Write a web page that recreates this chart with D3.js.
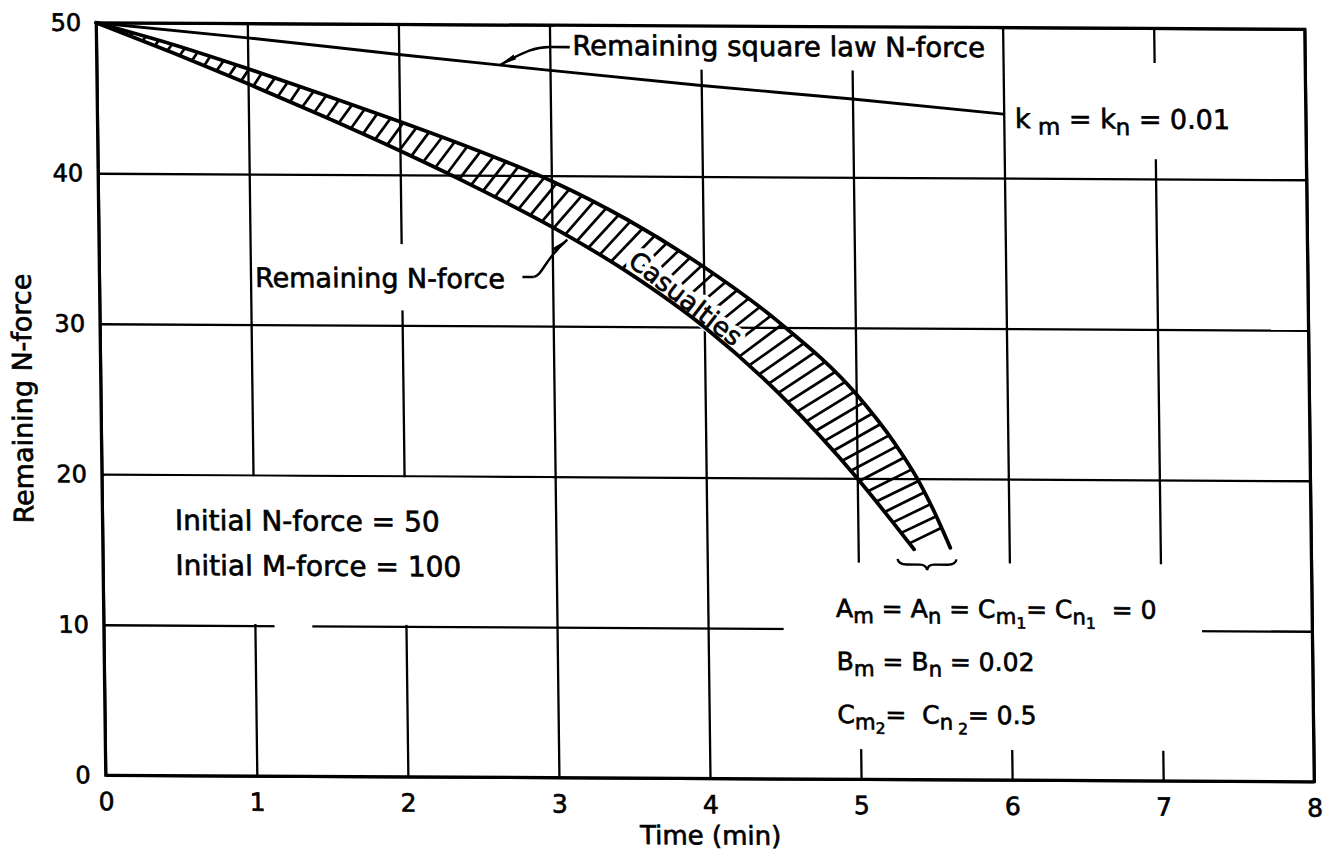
<!DOCTYPE html>
<html><head><meta charset="utf-8">
<script src="https://cdn.jsdelivr.net/npm/d3@7"></script>
<style>
html,body{margin:0;padding:0;background:#fff;}
svg{display:block;background:#fff;}
text{font-family:"DejaVu Sans",sans-serif;fill:#000;stroke:#000;stroke-width:0.65px;white-space:pre;}
</style></head><body>
<svg id="chart" width="1339" height="861"></svg>
<script>
// ---------- data ----------
const xTicks = [0,1,2,3,4,5,6,7,8];
const yTicks = [0,10,20,30,40,50];
const squareLawX = [0,1,2,3,4,5,6];
const squareLawY = [50,49.05,48.0,47.0,46.05,45.2,44.25];
const lowerX = [0,0.5,1,1.5,2,2.5,3,3.5,4,4.5,5,5.2,5.37];
const lowerY = [50,48.05,46.0,43.85,41.6,39.2,36.6,33.6,30.0,25.5,20.0,17.5,15.3];
const upperX = [0,0.5,1,1.5,2,2.5,3,3.5,4,4.5,5,5.25,5.4,5.5,5.61];
const upperY = [50,48.6,47.0,45.3,43.55,41.7,39.65,37.1,34.0,30.3,25.6,22.35,19.95,17.95,15.42];
const xTitle = "Time (min)";
const yTitle = "Remaining N-force";
// white knock-out areas where the original grid is interrupted (data units)
const gapBoxes = [
  {x0:3.03,x1:5.97,y0:47.1,y1:50},
  {x0:6.03,x1:7.6,y0:41.3,y1:47.7},
  {x0:1.03,x1:2.97,y0:31.0,y1:35.4},
  {x0:0.02,x1:2.98,y0:10.1,y1:19.9},
  {x0:1.13,x1:1.38,y0:9.6,y1:10.4},
  {x0:4.5,x1:7.27,y0:2.0,y1:14.4}
];

// ---------- setup ----------
const W = 1208.5, H = 752.5;
const svg = d3.select("#chart");
const g = svg.append("g").attr("transform","matrix(1,0.00538,0.01262,1,96.25,22.75)");
const x = d3.scaleLinear().domain([0,8]).range([0,W]);
const y = d3.scaleLinear().domain([0,50]).range([H,0]);

const defs = svg.append("defs");
defs.append("marker").attr("id","arr").attr("viewBox","0 0 18 8")
  .attr("refX",17).attr("refY",4).attr("markerWidth",18).attr("markerHeight",8)
  .attr("markerUnits","userSpaceOnUse").attr("orient","auto")
  .append("path").attr("d","M0,1.2 L18,4 L0,6.8 Z").attr("fill","#000");

// ---------- grid + tick labels ----------
g.append("g").attr("transform",`translate(0,${H})`)
  .call(d3.axisBottom(x).tickValues(xTicks).tickSize(-H).tickPadding(17).tickFormat(d3.format("d")))
  .call(a=>{a.select(".domain").remove();
    a.selectAll("line").attr("stroke","#000").attr("stroke-width",2.3);
    a.selectAll("text").attr("font-size",25).attr("fill","#000");});
g.append("g")
  .call(d3.axisLeft(y).tickValues(yTicks).tickSize(-W).tickPadding(15).tickFormat(d3.format("d")))
  .call(a=>{a.select(".domain").remove();
    a.selectAll("line").attr("stroke","#000").attr("stroke-width",2.3);
    a.selectAll("text").attr("font-size",24).attr("fill","#000");});

// knock-outs
g.append("g").selectAll("rect").data(gapBoxes).join("rect")
  .attr("x",d=>x(d.x0)).attr("y",d=>y(d.y1))
  .attr("width",d=>x(d.x1)-x(d.x0)).attr("height",d=>y(d.y0)-y(d.y1))
  .attr("fill","#fff");

// frame
g.append("rect").attr("x",0).attr("y",0).attr("width",W).attr("height",H)
  .attr("fill","none").attr("stroke","#000").attr("stroke-width",3.2);

// axis titles
g.append("text").attr("x",x(4)).attr("y",H+66).attr("text-anchor","middle")
  .attr("font-size",26).text(xTitle);
g.append("text").attr("transform",`translate(-69,${y(25)}) rotate(-90)`)
  .attr("text-anchor","middle").attr("font-size",27).text(yTitle);

// ---------- curves ----------
const line = d3.line().x(d=>x(d[0])).y(d=>y(d[1])).curve(d3.curveMonotoneX);
const sq = squareLawX.map((v,i)=>[v,squareLawY[i]]);
const lo = lowerX.map((v,i)=>[v,lowerY[i]]);
const up = upperX.map((v,i)=>[v,upperY[i]]);

g.append("path").attr("d",line(sq)).attr("fill","none").attr("stroke","#000").attr("stroke-width",2.9);

const hatchG = g.append("g");
const textG = g.append("g");
const loPath = g.append("path").attr("d",line(lo)).attr("fill","none").attr("stroke","#000").attr("stroke-width",3.8).attr("stroke-linecap","round");
const upPath = g.append("path").attr("d",line(up)).attr("fill","none").attr("stroke","#000").attr("stroke-width",3.8).attr("stroke-linecap","round");

// hatch rungs across the band, leaning slightly forward
const lN = loPath.node(), uN = upPath.node();
const Ll = lN.getTotalLength(), Lu = uN.getTotalLength();
const upS = d3.range(0, Lu, 0.7).map(s=>uN.getPointAtLength(s));
const lean = 12 * Math.PI / 180;
const rungs = [];
for (let s = 10; s < Ll - 1; s += 13.2) {
  const p = lN.getPointAtLength(s);
  const a = lN.getPointAtLength(Math.max(0,s-2)), b = lN.getPointAtLength(Math.min(Ll,s+2));
  let tx=b.x-a.x, ty=b.y-a.y; const n=Math.hypot(tx,ty); tx/=n; ty/=n;
  const nx=ty, ny=-tx;
  const dx0 = nx*Math.cos(lean)+tx*Math.sin(lean), dy0 = ny*Math.cos(lean)+ty*Math.sin(lean);
  let best=null, bd=1e9;
  for (const q of upS) {
    const dx=q.x-p.x, dy=q.y-p.y;
    if (dx*dx0+dy*dy0 <= 0) continue;
    const perp=Math.abs(dx*dy0-dy*dx0);
    if (perp<bd){bd=perp;best=q;}
  }
  if (best && bd < 2.5) rungs.push([p,best]);
}
hatchG.selectAll("line").data(rungs).join("line")
  .attr("x1",d=>d[0].x).attr("y1",d=>d[0].y).attr("x2",d=>d[1].x).attr("y2",d=>d[1].y)
  .attr("stroke","#000").attr("stroke-width",2.7);

// Casualties label inside band
const casPos = {x:3.88, y:31.9, angle:38};
[["#fff",10],["#000",0.65]].forEach(([c,w])=>{
  textG.append("text").attr("transform",`translate(${x(casPos.x)},${y(casPos.y)}) rotate(${casPos.angle})`)
    .attr("text-anchor","middle").attr("dy","0.36em").attr("font-size",26)
    .style("fill",c).style("stroke",c).style("stroke-width",w+"px")
    .style("stroke-linejoin","round").text("Casualties");
});

// ---------- annotations ----------
function rich(px, py, parts, size){
  const t = g.append("text").attr("x",px).attr("y",py).attr("font-size",size);
  let cur = 0;
  parts.forEach(([s,l])=>{
    const off = l===1 ? size*0.24 : l===2 ? size*0.42 : 0;
    const fs = l===1 ? size*0.85 : l===2 ? size*0.62 : size;
    t.append("tspan").attr("dy",off-cur).attr("font-size",fs).text(s);
    cur = off;
  });
  return t;
}
g.append("text").attr("x",x(3.15)).attr("y",y(48.03)).attr("font-size",27.5).text("Remaining square law N-force");
rich(x(6.074), y(43.34), [["k",0],[" m",1],[" = k",0],["n",1],[" = 0.01",0]], 27);
g.append("text").attr("x",x(1.03)).attr("y",y(32.5)).attr("font-size",27).text("Remaining N-force");
g.append("text").attr("x",x(0.479)).attr("y",y(16.32)).attr("font-size",28).text("Initial N-force = 50");
g.append("text").attr("x",x(0.479)).attr("y",y(13.33)).attr("font-size",28).text("Initial M-force = 100");
rich(x(4.848), y(10.78), [["A",0],["m",1],[" = A",0],["n",1],[" = C",0],["m",1],["1",2],["= C",0],["n",1],["1",2],["  = 0",0]], 25);
rich(x(4.848), y(7.26), [["B",0],["m",1],[" = B",0],["n",1],[" = 0.02",0]], 25);
rich(x(4.848), y(3.73), [["C",0],["m",1],["2",2],["=  C",0],["n",1],[" 2",2],["= 0.5",0]], 25);

// leader arrows
const sqLead = {x:3.0, y:48.55}, sqTip = {x:2.67, y:47.34};
const nLead = {x:2.80, y:33.26}, nTip = {x:3.1, y:35.75};
(function(){
  const sx=x(sqLead.x), sy=y(sqLead.y), tx=x(sqTip.x), ty=y(sqTip.y);
  g.append("path").attr("d",`M${sx},${sy} L${sx+20},${sy}`).attr("stroke","#000").attr("stroke-width",2.6).attr("fill","none");
  g.append("path").attr("d",`M${sx},${sy} C${sx-14},${sy} ${sx-24},${sy+4} ${tx},${ty}`)
    .attr("stroke","#000").attr("stroke-width",2.4).attr("fill","none").attr("marker-end","url(#arr)");
  const ax=x(nLead.x), ay=y(nLead.y), bx=ax+11, bTx=x(nTip.x), bTy=y(nTip.y);
  g.append("path").attr("d",`M${ax},${ay} L${bx},${ay}`).attr("stroke","#000").attr("stroke-width",2.6).attr("fill","none");
  g.append("path").attr("d",`M${bx},${ay} C${bx+9},${ay-1} ${bx+12},${ay-19} ${bTx},${bTy}`)
    .attr("stroke","#000").attr("stroke-width",2.4).attr("fill","none").attr("marker-end","url(#arr)");
})();

// brace under the band end
const brace = {x0:5.26, x1:5.65, y:14.65, tip:13.93};
(function(){
  const xa=x(brace.x0), xb=x(brace.x1), yb=y(brace.y), yt=y(brace.tip), xm=(xa+xb)/2, h=yt-yb, m=yb+h*0.5;
  g.append("path").attr("d",
    `M${xa},${yb} Q${xa+1},${m} ${xa+9},${m} L${xm-7},${m} Q${xm-1},${m} ${xm},${yt} Q${xm+1},${m} ${xm+7},${m} L${xb-9},${m} Q${xb-1},${m} ${xb},${yb}`)
    .attr("fill","none").attr("stroke","#000").attr("stroke-width",2.4);
})();
</script>
</body></html>
